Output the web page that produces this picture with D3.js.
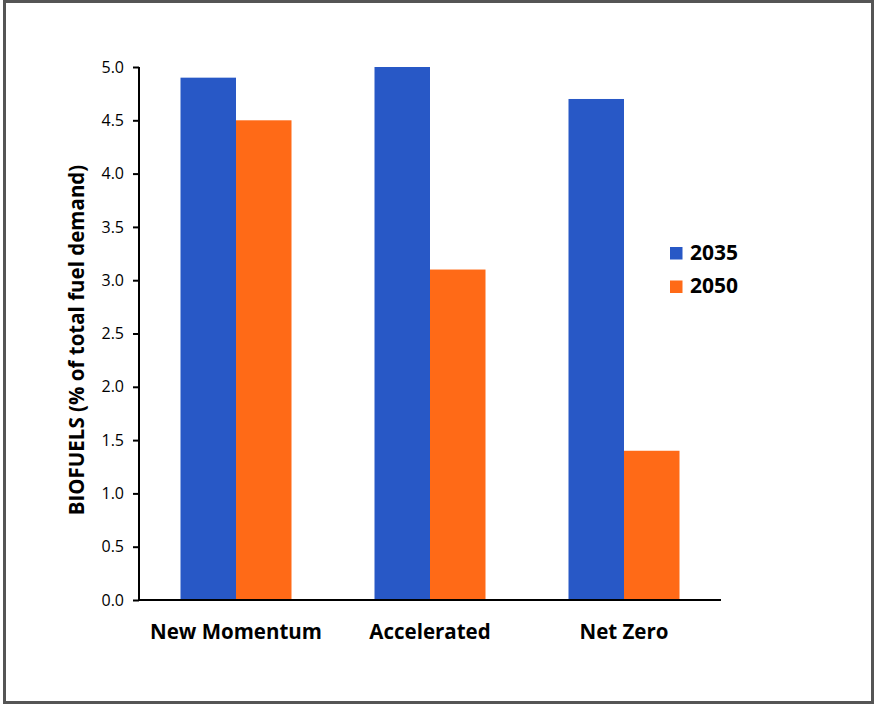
<!DOCTYPE html>
<html>
<head>
<meta charset="utf-8">
<script src="https://cdn.jsdelivr.net/npm/d3@7"></script>
<style>
  html, body { margin: 0; padding: 0; background: #fff; }
  svg { display: block; }
</style>
</head>
<body>
<svg id="chart" width="874" height="704"></svg>
<script>
// Biofuel share of total fuel demand by scenario
const scenarios = ["New Momentum", "Accelerated", "Net Zero"];
const years = ["2035", "2050"];
const values2035 = [4.9, 5.0, 4.7];
const values2050 = [4.5, 3.1, 1.4];
const yTicks = [0, 0.5, 1, 1.5, 2, 2.5, 3, 3.5, 4, 4.5, 5];
const yTitle = "BIOFUELS (% of total fuel demand)";
const colors = ["#2858C6", "#FF6A17"];

const series = [values2035, values2050];
const rows = scenarios.map((s, i) => ({ scenario: s, vals: years.map((y, j) => ({ year: y, value: series[j][i] })) }));

const svg = d3.select("#chart");
const font = "'Open Sans', 'Liberation Sans', sans-serif";

// Outer frame
svg.append("rect")
  .attr("x", 4.5).attr("y", 1.5)
  .attr("width", 868).attr("height", 701)
  .attr("fill", "#fff")
  .attr("stroke", "#555").attr("stroke-width", 3);

const plot = { left: 139, right: 721, top: 67, bottom: 600 };

const x0 = d3.scaleBand().domain(scenarios).range([plot.left, plot.right]).paddingInner(0).paddingOuter(0);
const groupW = 111;
const x1 = d3.scaleBand().domain(years).range([0, groupW]).padding(0);
const y = d3.scaleLinear().domain([0, 5]).range([plot.bottom, plot.top]);

// Bars
const g = svg.append("g");
g.selectAll("g.grp").data(rows).join("g")
  .attr("class", "grp")
  .attr("transform", d => `translate(${x0(d.scenario) + (x0.bandwidth() - groupW) / 2},0)`)
  .selectAll("rect").data(d => d.vals).join("rect")
  .attr("x", d => x1(d.year))
  .attr("width", x1.bandwidth())
  .attr("y", d => y(d.value))
  .attr("height", d => y(0) - y(d.value))
  .attr("fill", (d, i) => colors[i]);

// Y axis
const yAxis = svg.append("g")
  .attr("transform", `translate(${plot.left},0)`)
  .call(d3.axisLeft(y).tickValues(yTicks).tickFormat(d3.format(".1f")).tickSize(6).tickPadding(9));
yAxis.select(".domain").attr("stroke", "#000").attr("stroke-width", 2)
  .attr("d", `M0,${plot.top}V${plot.bottom}`);
yAxis.selectAll(".tick line").attr("stroke", "#000").attr("stroke-width", 2);
yAxis.selectAll(".tick text").attr("font-family", font).attr("font-size", 16).attr("fill", "#000");

// X axis
const xAxis = svg.append("g")
  .attr("transform", `translate(0,${plot.bottom})`)
  .call(d3.axisBottom(x0).tickSize(0).tickPadding(24));
xAxis.select(".domain").attr("stroke", "#000").attr("stroke-width", 2)
  .attr("d", `M${plot.left - 1},0H${plot.right}`);
xAxis.selectAll(".tick text").attr("font-family", font).attr("font-size", 20.5)
  .attr("font-weight", "bold").attr("fill", "#000");

// Y axis title
svg.append("text")
  .attr("transform", "translate(84,340) rotate(-90)")
  .attr("text-anchor", "middle")
  .attr("font-family", font).attr("font-size", 20.5).attr("font-weight", "bold")
  .attr("fill", "#000")
  .text(yTitle);

// Legend
const legend = svg.append("g").attr("transform", "translate(670,247)");
years.forEach((yr, i) => {
  const row = legend.append("g").attr("transform", `translate(0,${i * 33.5})`);
  row.append("rect").attr("width", 12.5).attr("height", 12.5).attr("fill", colors[i]);
  row.append("text").attr("x", 20).attr("y", 12.5).attr("font-family", font)
    .attr("font-size", 21).attr("font-weight", "bold").attr("fill", "#000").text(yr);
});
</script>
</body>
</html>
